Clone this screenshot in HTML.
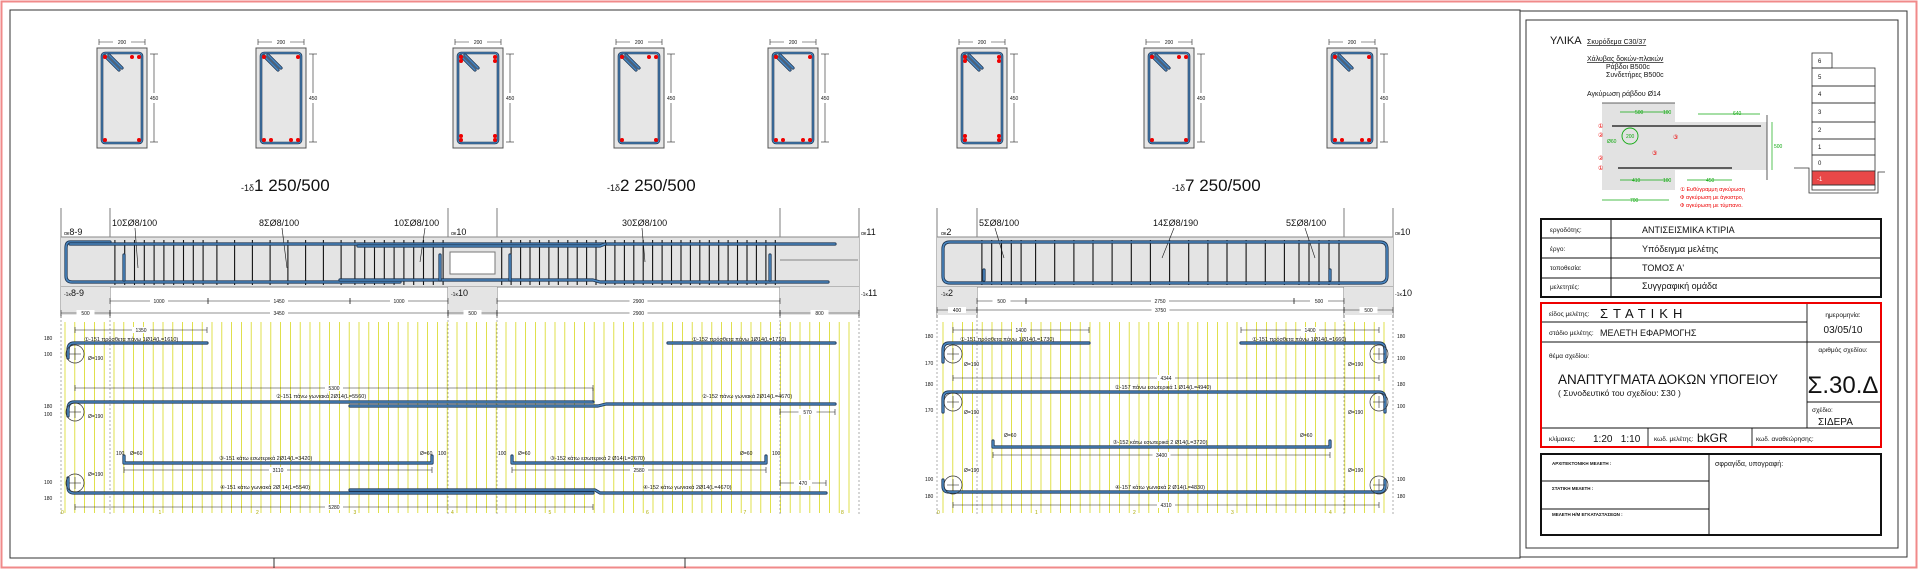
<!DOCTYPE html>
<html><head><meta charset="utf-8">
<style>
html,body{margin:0;padding:0;background:#fff;}
svg{display:block;font-family:"Liberation Sans","DejaVu Sans",sans-serif;}
</style></head>
<body>
<svg id="s" width="1918" height="569" viewBox="0 0 1918 569" xmlns="http://www.w3.org/2000/svg">
<rect x="1.5" y="1.5" width="1915" height="566" fill="none" stroke="#f08a8a" stroke-width="2"/>
<rect x="10" y="10" width="1510" height="548" fill="none" stroke="#333" stroke-width="1"/>
<line x1="274" y1="558" x2="274" y2="568" stroke="#333"/>
<line x1="685" y1="558" x2="685" y2="568" stroke="#333"/>
<rect x="1520" y="11" width="387" height="546" fill="none" stroke="#333" stroke-width="1"/>
<rect x="1526" y="20" width="372" height="528" fill="none" stroke="#333" stroke-width="1"/>
<g id="g"></g>

<g font-size="11" fill="#111">
<text x="241" y="191"><tspan font-size="9">-1δ</tspan><tspan font-size="17">1 250/500</tspan></text>
<text x="607" y="191"><tspan font-size="9">-1δ</tspan><tspan font-size="17">2 250/500</tspan></text>
<text x="1172" y="191"><tspan font-size="9">-1δ</tspan><tspan font-size="17">7 250/500</tspan></text>
</g>

<g fill="#111">
<text x="1550" y="44" font-size="11">ΥΛΙΚΑ</text>
<text x="1587" y="44" font-size="7" text-decoration="underline">Σκυρόδεμα C30/37</text>
<text x="1587" y="61" font-size="7" text-decoration="underline">Χάλυβας δοκών-πλακών</text>
<text x="1606" y="69" font-size="7">Ράβδοι B500c</text>
<text x="1606" y="77" font-size="7">Συνδετήρες B500c</text>
<text x="1587" y="96" font-size="7">Αγκύρωση ράβδου Ø14</text>
</g>
<g>
<path d="M1602 103 H1675 V122 H1767 V170 H1675 V190 H1602 Z" fill="#e2e2e2"/>
<line x1="1602" y1="103" x2="1675" y2="103" stroke="#333" stroke-width="0.8"/>
<line x1="1767" y1="115" x2="1767" y2="180" stroke="#333" stroke-width="0.8"/>
<line x1="1612" y1="126" x2="1761" y2="126" stroke="#333" stroke-width="1.6"/>
<line x1="1618" y1="168" x2="1732" y2="168" stroke="#333" stroke-width="1.6"/>
<circle cx="1630" cy="136" r="8" fill="none" stroke="#1a1" stroke-width="0.9"/>
<line x1="1620" y1="112" x2="1669" y2="112" stroke="#1a1" stroke-width="0.7"/>
<line x1="1698" y1="114" x2="1760" y2="114" stroke="#1a1" stroke-width="0.7"/>
<line x1="1620" y1="180" x2="1669" y2="180" stroke="#1a1" stroke-width="0.7"/>
<line x1="1687" y1="180" x2="1732" y2="180" stroke="#1a1" stroke-width="0.7"/>
<line x1="1602" y1="200" x2="1669" y2="200" stroke="#1a1" stroke-width="0.7"/>
<line x1="1772" y1="122" x2="1772" y2="170" stroke="#1a1" stroke-width="0.7"/>
<g font-size="5" fill="#1a1">
<text x="1635" y="114">500</text><text x="1663" y="114">100</text><text x="1733" y="115">640</text>
<text x="1632" y="182">410</text><text x="1663" y="182">100</text><text x="1706" y="182">450</text>
<text x="1630" y="202">700</text><text x="1774" y="148">500</text><text x="1626" y="138">200</text><text x="1607" y="143">Ø60</text>
</g>
<g font-size="6" fill="#e00">
<text x="1598" y="128">①</text><text x="1598" y="137">②</text><text x="1598" y="160">②</text><text x="1598" y="170">①</text>
<text x="1673" y="139">③</text><text x="1652" y="155">③</text>
<text x="1680" y="191" font-size="5.5">① Ευθύγραμμη αγκύρωση</text>
<text x="1680" y="199" font-size="5.5">Φ αγκύρωση με άγκιστρο,</text>
<text x="1680" y="207" font-size="5.5">Φ αγκύρωση με τύμπανο.</text>
</g>
</g>
<g stroke="#333" stroke-width="0.8" fill="none">
<rect x="1812" y="53" width="20" height="15"/>
<rect x="1812" y="68" width="63" height="18"/>
<rect x="1812" y="86" width="63" height="17"/>
<rect x="1812" y="103" width="63" height="19"/>
<rect x="1812" y="122" width="63" height="17"/>
<rect x="1812" y="139" width="63" height="16"/>
<rect x="1812" y="155" width="63" height="16"/>
<rect x="1812" y="171" width="63" height="14" fill="#e84848"/>
<rect x="1812" y="185" width="63" height="5"/>
<polyline points="1794,168 1809,168 1809,193 1878,193 1878,172 1885,172"/>
</g>
<g font-size="6" fill="#111">
<text x="1818" y="63">6</text><text x="1818" y="79">5</text><text x="1818" y="96">4</text><text x="1818" y="114">3</text>
<text x="1818" y="132">2</text><text x="1818" y="149">1</text><text x="1818" y="165">0</text><text x="1817" y="181" fill="#fff">-1</text>
</g>

<g stroke="#111" fill="none">
<rect x="1541" y="219" width="340" height="78" stroke-width="2"/>
<line x1="1541" y1="238" x2="1881" y2="238"/><line x1="1541" y1="258" x2="1881" y2="258"/><line x1="1541" y1="278" x2="1881" y2="278"/>
<line x1="1611" y1="219" x2="1611" y2="297"/>
</g>
<g fill="#111">
<text x="1550" y="232" font-size="6.5">εργοδότης:</text><text x="1642" y="233" font-size="9">ΑΝΤΙΣΕΙΣΜΙΚΑ ΚΤΙΡΙΑ</text>
<text x="1550" y="251" font-size="6.5">έργο:</text><text x="1642" y="252" font-size="9">Υπόδειγμα μελέτης</text>
<text x="1550" y="270" font-size="6.5">τοποθεσία:</text><text x="1642" y="271" font-size="9">ΤΟΜΟΣ Α'</text>
<text x="1550" y="289" font-size="6.5">μελετητές:</text><text x="1642" y="289" font-size="9">Συγγραφική ομάδα</text>
</g>
<rect x="1541" y="303" width="340" height="144" fill="none" stroke="#e00" stroke-width="2"/>
<g stroke="#111" fill="none" stroke-width="0.9">
<line x1="1807" y1="304" x2="1807" y2="428"/>
<line x1="1542" y1="322" x2="1807" y2="322"/>
<line x1="1542" y1="342" x2="1880" y2="342"/>
<line x1="1807" y1="402" x2="1880" y2="402"/>
<line x1="1542" y1="428" x2="1880" y2="428"/>
<line x1="1648" y1="428" x2="1648" y2="446"/>
<line x1="1752" y1="428" x2="1752" y2="446"/>
</g>
<g fill="#111">
<text x="1549" y="316" font-size="6.5">είδος μελέτης:</text>
<text x="1600" y="318" font-size="13" letter-spacing="5">ΣΤΑΤΙΚΗ</text>
<text x="1549" y="335" font-size="6.5">στάδιο μελέτης:</text>
<text x="1600" y="336" font-size="9">ΜΕΛΕΤΗ ΕΦΑΡΜΟΓΗΣ</text>
<text x="1843" y="317" font-size="6.5" text-anchor="middle">ημερομηνία:</text>
<text x="1843" y="333" font-size="10" text-anchor="middle">03/05/10</text>
<text x="1549" y="358" font-size="6.5">θέμα σχεδίου:</text>
<text x="1558" y="384" font-size="13.5">ΑΝΑΠΤΥΓΜΑΤΑ ΔΟΚΩΝ ΥΠΟΓΕΙΟΥ</text>
<text x="1558" y="396" font-size="8.5">( Συνοδευτικό του σχεδίου: Σ30 )</text>
<text x="1843" y="352" font-size="6.5" text-anchor="middle">αριθμός σχεδίου:</text>
<text x="1843" y="393" font-size="24" text-anchor="middle">Σ.30.Δ</text>
<text x="1812" y="412" font-size="6.5">σχέδιο:</text>
<text x="1818" y="425" font-size="10">ΣΙΔΕΡΑ</text>
<text x="1549" y="441" font-size="6.5">κλίμακες:</text>
<text x="1593" y="442" font-size="10">1:20 &#160; 1:10</text>
<text x="1654" y="441" font-size="6.5">κωδ. μελέτης:</text>
<text x="1697" y="442" font-size="12">bkGR</text>
<text x="1756" y="441" font-size="6.5">κωδ. αναθεώρησης:</text>
</g>
<g stroke="#111" fill="none">
<rect x="1541" y="454" width="340" height="81" stroke-width="2"/>
<line x1="1709" y1="454" x2="1709" y2="535"/>
<line x1="1541" y1="481" x2="1709" y2="481"/><line x1="1541" y1="509" x2="1709" y2="509"/>
</g>
<g fill="#111" font-weight="bold" font-size="4.5">
<text x="1552" y="465">ΑΡΧΙΤΕΚΤΟΝΙΚΗ ΜΕΛΕΤΗ :</text>
<text x="1552" y="490">ΣΤΑΤΙΚΗ ΜΕΛΕΤΗ :</text>
<text x="1552" y="516">ΜΕΛΕΤΗ Η/Μ ΕΓΚΑΤΑΣΤΑΣΕΩΝ :</text>
</g>
<text x="1715" y="466" font-size="7" fill="#111">σφραγίδα, υπογραφή:</text>

<g fill="#111" font-size="9">
<text x="112" y="226">10ΣØ8/100</text><text x="259" y="226">8ΣØ8/100</text><text x="394" y="226">10ΣØ8/100</text><text x="622" y="226">30ΣØ8/100</text>
<text x="979" y="226">5ΣØ8/100</text><text x="1153" y="226">14ΣØ8/190</text><text x="1286" y="226">5ΣØ8/100</text>
</g>
<g fill="#111" font-size="9">
<text x="64" y="235"><tspan font-size="5">ακ</tspan>8-9</text><text x="64" y="296"><tspan font-size="5">-1κ</tspan>8-9</text>
<text x="451" y="235"><tspan font-size="5">ακ</tspan>10</text><text x="451" y="296"><tspan font-size="5">-1κ</tspan>10</text>
<text x="861" y="235"><tspan font-size="5">ακ</tspan>11</text><text x="861" y="296"><tspan font-size="5">-1κ</tspan>11</text>
<text x="941" y="235"><tspan font-size="5">ακ</tspan>2</text><text x="941" y="296"><tspan font-size="5">-1κ</tspan>2</text>
<text x="1395" y="235"><tspan font-size="5">ακ</tspan>10</text><text x="1395" y="296"><tspan font-size="5">-1κ</tspan>10</text>
</g>
<g fill="#111" font-size="5.5">
<text x="84" y="341">①-151 πρόσθετα πάνω 1Ø14(L=1610)</text>
<text x="692" y="341">①-152 πρόσθετα πάνω 1Ø14(L=1710)</text>
<text x="276" y="398">②-151 πάνω γωνιακά 2Ø14(L=5560)</text>
<text x="702" y="398">②-152 πάνω γωνιακά 2Ø14(L=4670)</text>
<text x="219" y="460">③-151 κάτω εσωτερικά 2Ø14(L=3420)</text>
<text x="550" y="460">③-152 κάτω εσωτερικά 2 Ø14(L=2670)</text>
<text x="220" y="489">④-151 κάτω γωνιακά 2Ø 14(L=5540)</text>
<text x="643" y="489">④-152 κάτω γωνιακά 2Ø14(L=4670)</text>
<text x="960" y="341">①-151 πρόσθετα πάνω 1Ø14(L=1730)</text>
<text x="1252" y="341">①-151 πρόσθετα πάνω 1Ø14(L=1660)</text>
<text x="1163" y="389" text-anchor="middle">②-157 πάνω εσωτερικά 1 Ø14(L=4940)</text>
<text x="1160" y="444" text-anchor="middle">③-152 κάτω εσωτερικά 2 Ø14(L=3720)</text>
<text x="1160" y="489" text-anchor="middle">④-157 κάτω γωνιακά 2 Ø14(L=4830)</text>
</g>
</svg>
<script>
var g=document.getElementById('g'),h='';
function L(a,b,c,d,s,w,e){h+='<line x1="'+a+'" y1="'+b+'" x2="'+c+'" y2="'+d+'" stroke="'+s+'" stroke-width="'+(w||1)+'"'+(e||'')+'/>';}
function R(x,y,w,ht,f,s,e){h+='<rect x="'+x+'" y="'+y+'" width="'+w+'" height="'+ht+'" fill="'+f+'" stroke="'+(s||'none')+'"'+(e||'')+'/>';}
function T(x,y,t,fs,e){h+='<text x="'+x+'" y="'+y+'" font-size="'+(fs||5)+'" fill="#111"'+(e||'')+'>'+t+'</text>';}
function P(d,s,w){h+='<path d="'+d+'" fill="none" stroke="'+s+'" stroke-width="'+w+'" stroke-linejoin="round" stroke-linecap="round"/>';}
function dim(x1,x2,y,t){L(x1,y,x2,y,'#222',0.6);L(x1,y-3,x1,y+3,'#222',0.6);L(x2,y-3,x2,y+3,'#222',0.6);var m=(x1+x2)/2;R(m-9,y-3,18,6,'#fff');T(m,y+2,t,5,' text-anchor="middle"');}
function bar(d){P(d,'#1e3550',3.2);P(d,'#4a86c0',1.6);}
var sx=[97,256,453,614,768,957,1144,1327];
sx.forEach(function(x,i){
 R(x,48,50,100,'#e6e6e6','#555');
 h+='<rect x="'+(x+5)+'" y="53" width="40" height="90" rx="3" fill="none" stroke="#1e3550" stroke-width="2.6"/>';
 h+='<rect x="'+(x+5)+'" y="53" width="40" height="90" rx="3" fill="none" stroke="#4a86c0" stroke-width="1.2"/>';
 bar('M'+(x+8)+' 56 L'+(x+22)+' 70');bar('M'+(x+12)+' 55 L'+(x+25)+' 68');
 var dots=[[x+8,57],[x+42,57],[x+8,140],[x+42,140]];
 if(i%3==0){dots.push([x+35,57]);}
 if(i%3==1){dots.push([x+15,140],[x+35,140]);}
 if(i%3==2){dots.push([x+8,61],[x+42,61],[x+8,136],[x+42,136]);}
 dots.forEach(function(d){h+='<circle cx="'+d[0]+'" cy="'+d[1]+'" r="2" fill="#e00"/>';});
 L(x+2,42,x+48,42,'#222',0.6);L(x+2,39,x+2,45,'#222',0.6);L(x+48,39,x+48,45,'#222',0.6);R(x+16,39,18,6,'#fff');T(x+25,44,'200',5,' text-anchor="middle"');
 L(x+57,54,x+57,142,'#222',0.6);L(x+53,54,x+61,54,'#222',0.6);L(x+53,142,x+61,142,'#222',0.6);R(x+54,93,8,10,'#fff');T(x+53,100,'450',5);
});
[61,110,448,497,780,859].forEach(function(x){L(x,208,x,318,'#444',0.7);});
R(61,237,798,50,'#e4e4e4');L(61,237,859,237,'#888',1);L(61,287,859,287,'#888',1);
R(61,287,49,28,'#e4e4e4');R(448,287,49,28,'#e4e4e4');R(780,287,79,28,'#e4e4e4');
R(450,252,45,22,'#fff','#777');L(780,260,858,260,'#666',0.8);
[937,977,1344,1393].forEach(function(x){L(x,208,x,318,'#444',0.7);});
R(937,237,456,50,'#e4e4e4');L(937,237,1393,237,'#888',1);L(937,287,1393,287,'#888',1);
R(937,287,40,28,'#e4e4e4');R(1344,287,49,28,'#e4e4e4');
var i;
for(i=65;i<858;i+=9.8)L(i.toFixed(1),322,i.toFixed(1),513,'#d8d820',0.8);
for(i=943;i<1392;i+=9.8)L(i.toFixed(1),322,i.toFixed(1),513,'#d8d820',0.8);
[61,110,448,497,780,859,937,977,1344,1393].forEach(function(x){L(x,320,x,516,'#777',0.6,' stroke-dasharray="2,2"');});
function st(a,b,n){for(var k=0;k<n;k++){var x=a+(b-a)*(k+0.5)/n;L(x.toFixed(1),240,x.toFixed(1),285,'#111',1.1);}}
st(110,208,10);st(208,350,8);st(350,448,10);st(497,780,30);
st(977,1026,5);st(1026,1294,14);st(1294,1344,5);
L(135,228,138,268,'#111',0.6);L(282,228,287,268,'#111',0.6);L(425,228,420,262,'#111',0.6);L(642,228,645,262,'#111',0.6);
L(995,228,1004,258,'#111',0.6);L(1174,228,1162,258,'#111',0.6);L(1305,228,1315,258,'#111',0.6);
bar('M110 242 L70 242 Q66 242 66 248 L66 276 Q66 282 72 282 L400 282');
bar('M70 244 L835 244');bar('M358 246 L600 246 L605 244');bar('M340 280 L593 280 L600 282 L828 282');
bar('M124 255 L124 280');bar('M440 255 L440 280');bar('M510 255 L510 280');bar('M770 255 L770 280');
bar('M950 242 L1380 242 Q1387 242 1387 249 L1387 276 Q1387 283 1380 283 L950 283 Q943 283 943 276 L943 249 Q943 242 950 242');
bar('M984 270 L984 280');bar('M1330 270 L1330 280');
dim(110,208,301,'1000');dim(208,350,301,'1450');dim(350,448,301,'1000');dim(497,780,301,'2900');
dim(61,110,313,'500');dim(110,448,313,'3450');dim(448,497,313,'500');dim(497,780,313,'2900');dim(780,859,313,'800');
dim(977,1026,301,'500');dim(1026,1294,301,'2750');dim(1294,1344,301,'500');
dim(937,977,310,'400');dim(977,1344,310,'3750');dim(1344,1393,310,'500');
function circ(x,y){h+='<circle cx="'+x+'" cy="'+y+'" r="9" fill="none" stroke="#333" stroke-width="0.7"/>';L(x-6,y,x+6,y,'#333',0.6);L(x,y-6,x,y+6,'#333',0.6);}
bar('M207 343 L74 343 Q68 343 68 350 L68 358');circ(75,354);dim(75,207,330,'1350');
bar('M668 343 L835 343');
bar('M593 402 L74 402 Q68 402 68 409 L68 416');circ(75,412);dim(75,593,388,'5300');L(593,388,593,402,'#222',0.6);
bar('M350 406 L598 406 L606 404 L835 404');dim(780,835,412,'570');
bar('M124 456 L124 463 L432 463 L432 456');dim(124,432,470,'3110');
bar('M512 456 L512 463 L766 463 L766 456');dim(512,766,470,'2580');
bar('M68 478 L68 487 Q68 493 74 493 L593 493');circ(75,483);bar('M350 490 L595 490 L600 493 L826 493');
dim(75,593,507,'5280');dim(780,826,483,'470');
T(44,340,'180',5);T(44,356,'100',5);T(44,408,'180',5);T(44,416,'100',5);T(44,484,'100',5);T(44,500,'180',5);
T(88,360,'Ø=190',5);T(88,418,'Ø=190',5);T(88,476,'Ø=190',5);T(130,455,'Ø=60',5);T(420,455,'Ø=60',5);T(518,455,'Ø=60',5);T(740,455,'Ø=60',5);
T(116,455,'100',5);T(438,455,'100',5);T(498,455,'100',5);T(772,455,'100',5);
bar('M1089 343 L949 343 Q943 343 943 350 L943 362');circ(953,354);dim(953,1089,330,'1400');
bar('M1241 343 L1379 343 Q1385 343 1385 350 L1385 362');circ(1379,354);dim(1241,1379,330,'1400');
bar('M949 392 L1379 392 Q1385 392 1385 399 L1385 412 M949 392 Q943 392 943 399 L943 412');circ(953,402);circ(1379,402);dim(953,1379,378,'4344');
bar('M993 441 L993 447 L1330 447 L1330 441');dim(993,1330,455,'3400');
bar('M943 480 L943 486 Q943 492 949 492 L1379 492 Q1385 492 1385 486 L1385 480');circ(953,485);circ(1379,485);dim(953,1379,505,'4310');
T(925,338,'180',5);T(925,365,'170',5);T(925,386,'180',5);T(925,412,'170',5);T(925,481,'100',5);T(925,498,'180',5);
T(1397,338,'180',5);T(1397,360,'100',5);T(1397,386,'180',5);T(1397,408,'100',5);T(1397,481,'100',5);T(1397,498,'180',5);
T(964,366,'Ø=190',5);T(964,414,'Ø=190',5);T(964,472,'Ø=190',5);T(1348,366,'Ø=190',5);T(1348,414,'Ø=190',5);T(1348,472,'Ø=190',5);
T(1004,437,'Ø=60',5);T(1300,437,'Ø=60',5);
['0','1','2','3','4','5','6','7','8'].forEach(function(n,k){h+='<text x="'+(61+k*97.5)+'" y="514" font-size="5" fill="#aa0">'+n+'</text>';});
['0','1','2','3','4'].forEach(function(n,k){h+='<text x="'+(937+k*98)+'" y="514" font-size="5" fill="#aa0">'+n+'</text>';});
g.innerHTML=h;
</script>
</body></html>
